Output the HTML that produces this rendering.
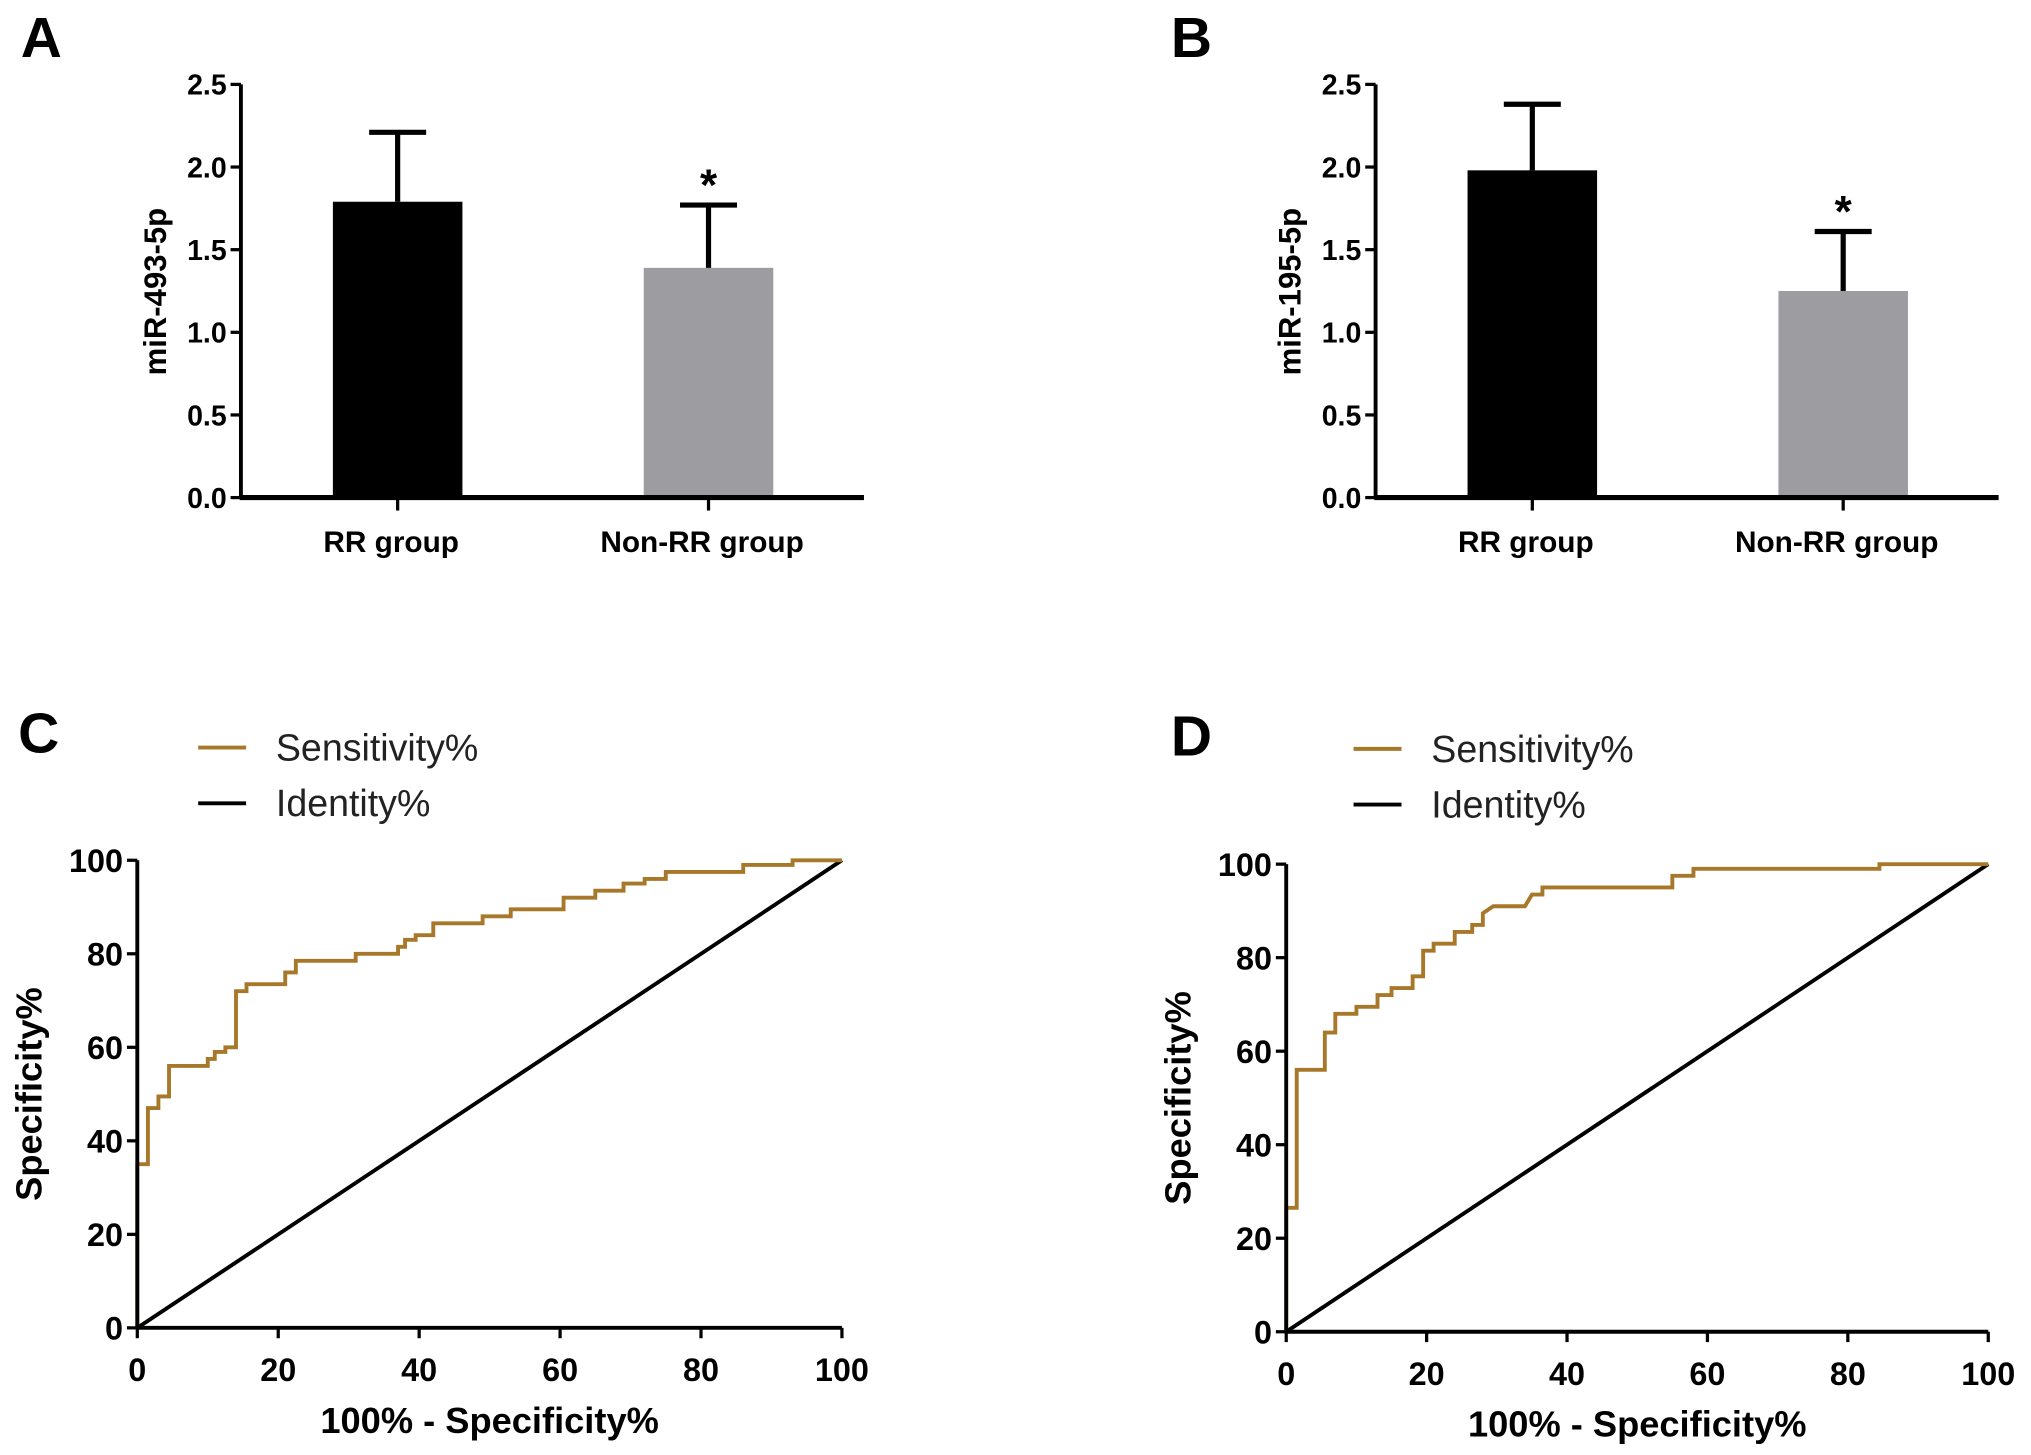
<!DOCTYPE html>
<html><head><meta charset="utf-8"><style>
html,body{margin:0;padding:0;background:#fff;}
svg{display:block;}
text{font-family:"Liberation Sans Narrow","Liberation Sans",sans-serif;}
</style></head><body>
<svg id="fig" width="2031" height="1455" viewBox="0 0 1568 1123" xmlns="http://www.w3.org/2000/svg">
<text x="16" y="44" font-size="44" font-weight="bold" style="font-family:'Liberation Sans',sans-serif">A</text>
<text x="904" y="44" font-size="44" font-weight="bold" style="font-family:'Liberation Sans',sans-serif">B</text>
<text x="14" y="581" font-size="44" font-weight="bold" style="font-family:'Liberation Sans',sans-serif">C</text>
<text x="904" y="583" font-size="44" font-weight="bold" style="font-family:'Liberation Sans',sans-serif">D</text>
</svg>
<script>
const barCategories = ["RR group", "Non-RR group"];
const barValuesA = [1.79, 1.39];
const barErrorsA = [0.42, 0.38];
const barValuesB = [1.98, 1.25];
const barErrorsB = [0.40, 0.36];
const barTicks = [0, 0.5, 1.0, 1.5, 2.0, 2.5];
const rocTicks = [0, 20, 40, 60, 80, 100];
const rocFprC = [0,0,1.5,1.5,3,3,4.5,4.5,10,10,11,11,12.5,12.5,14,14,15.5,15.5,21,21,22.5,22.5,31,31,37,37,38,38,39.5,39.5,42,42,49,49,53,53,60.5,60.5,65,65,69,69,72,72,75,75,86,86,93,93,100];
const rocTprC = [0,35,35,47,47,49.5,49.5,56,56,57.5,57.5,59,59,60,60,72,72,73.5,73.5,76,76,78.5,78.5,80,80,81.5,81.5,83,83,84,84,86.5,86.5,88,88,89.5,89.5,92,92,93.5,93.5,95,95,96,96,97.5,97.5,99,99,100,100];
const rocFprD = [0,0,1.5,1.5,5.5,5.5,7,7,10,10,13,13,15,15,18,18,19.5,19.5,21,21,24,24,26.5,26.5,28,28,29.5,34,35,36.5,36.5,55,55,58,58,84.5,84.5,100];
const rocTprD = [0,26.5,26.5,56,56,64,64,68,68,69.5,69.5,72,72,73.5,73.5,76,76,81.5,81.5,83,83,85.5,85.5,87,87,89.5,91,91,93.5,93.5,95,95,97.5,97.5,99,99,100,100];

const svg = document.getElementById('fig');
const NS = 'http://www.w3.org/2000/svg';
function mk(tag, attrs, parent){const e=document.createElementNS(NS,tag);for(const k in attrs)e.setAttribute(k,attrs[k]);(parent||svg).appendChild(e);return e;}

function barChart(ox, key, values, errors, ytitle){
  const g = mk('g',{});
  
  
  const y0=384, yTop=65, xEnd=ox+481;
  const sy = v => y0 - (y0-yTop)*v/2.5;
  const centers=[ox+121, ox+361];
  values.forEach((v,i)=>{
    const fill = i===0 ? '#000' : '#9c9ca1';
    const r = mk('rect',{x:centers[i]-50,y:sy(v),width:100,height:y0-sy(v),fill:fill},g);
    
    
    const top = sy(v+errors[i]);
    const e = mk('path',{d:`M${centers[i]} ${sy(v)} V${top} M${centers[i]-22} ${top} H${centers[i]+22}`,stroke:'#000','stroke-width':4,fill:'none'},g);
    
    
    const c = mk('text',{x:centers[i]-5,y:426,'font-size':23,'font-weight':'bold','text-anchor':'middle'},g);
    c.textContent = barCategories[i];
    
    
    mk('line',{x1:centers[i],x2:centers[i],y1:y0,y2:y0+10,stroke:'#000','stroke-width':2.5},g);
  });
  const st = mk('text',{x:centers[1],y:sy(values[1]+errors[1])-4,'font-size':34,'font-weight':'bold','text-anchor':'middle'},g);
  st.textContent='*';
  
  
  mk('line',{x1:ox,x2:ox,y1:yTop,y2:y0,stroke:'#000','stroke-width':3},g);
  mk('line',{x1:ox-1,x2:xEnd,y1:y0,y2:y0,stroke:'#000','stroke-width':4},g);
  barTicks.forEach(t=>{
    mk('line',{x1:ox-8,x2:ox,y1:sy(t),y2:sy(t),stroke:'#000','stroke-width':2.5},g);
    const l = mk('text',{x:ox-11,y:sy(t)+8,'font-size':22,'font-weight':'bold','text-anchor':'end'},g);
    l.textContent = t.toFixed(1);
    
    
  });
  const yt = mk('text',{x:0,y:0,'font-size':24,'font-weight':'bold','text-anchor':'middle',transform:`translate(${ox-58},225) rotate(-90)`},g);
  yt.textContent = ytitle;
  
  
}

function rocChart(ox, oy0, oyTop, oxEnd, legY, legX, key, fpr, tpr){
  const g = mk('g',{});
  
  
  const sx = v => ox + (oxEnd-ox)*v/100;
  const sy = v => oy0 - (oy0-oyTop)*v/100;
  const diag = mk('line',{x1:sx(0),y1:sy(0),x2:sx(100),y2:sy(100),stroke:'#000','stroke-width':3},g);
  
  
  let d='';
  fpr.forEach((x,i)=>{d += (i?'L':'M')+sx(x).toFixed(1)+' '+sy(tpr[i]).toFixed(1)+' ';});
  const p = mk('path',{d:d,stroke:'#a8782a','stroke-width':3,fill:'none'},g);
  
  
  mk('line',{x1:ox,x2:ox,y1:oyTop,y2:oy0,stroke:'#000','stroke-width':3},g);
  mk('line',{x1:ox,x2:oxEnd,y1:oy0,y2:oy0,stroke:'#000','stroke-width':3},g);
  rocTicks.forEach(t=>{
    mk('line',{x1:ox-8,x2:ox,y1:sy(t),y2:sy(t),stroke:'#000','stroke-width':2.5},g);
    mk('line',{x1:sx(t),x2:sx(t),y1:oy0,y2:oy0+8,stroke:'#000','stroke-width':2.5},g);
    const l = mk('text',{x:ox-11,y:sy(t)+9,'font-size':25,'font-weight':'bold','text-anchor':'end'},g);
    l.textContent = t;
    
    
    const xl = mk('text',{x:sx(t),y:oy0+41,'font-size':25,'font-weight':'bold','text-anchor':'middle'},g);
    xl.textContent = t;
    
    
  });
  const xt = mk('text',{x:(ox+oxEnd)/2,y:oy0+81,'font-size':28,'font-weight':'bold','text-anchor':'middle'},g);
  xt.textContent = '100% - Specificity%';
  
  
  const yt = mk('text',{x:0,y:0,'font-size':28,'font-weight':'bold','text-anchor':'middle',transform:`translate(${ox-74},${(oy0+oyTop)/2}) rotate(-90)`},g);
  yt.textContent = 'Specificity%';
  
  
  [['Sensitivity%','#a8782a',0],['Identity%','#000',43]].forEach(([lab,col,dy])=>{
    mk('line',{x1:legX,x2:legX+37,y1:legY+dy,y2:legY+dy,stroke:col,'stroke-width':3},g);
    const t = mk('text',{x:legX+60,y:legY+dy+10,'font-size':29,fill:'#222',style:"font-family:'Liberation Sans',sans-serif"},g);
    t.textContent = lab;
    
    
  });
}

barChart(186, 'a', barValuesA, barErrorsA, 'miR-493-5p');
barChart(1062, 'b', barValuesB, barErrorsB, 'miR-195-5p');
rocChart(106, 1025, 664, 650, 577, 153, 'c', rocFprC, rocTprC);
rocChart(993, 1028, 667, 1535, 578, 1045, 'd', rocFprD, rocTprD);
</script>
</body></html>
